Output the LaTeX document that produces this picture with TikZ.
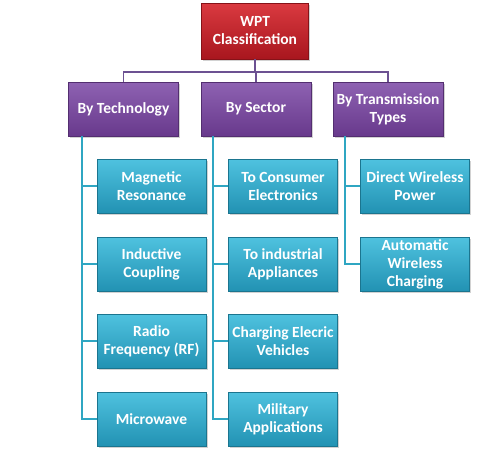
\documentclass[tikz,border=0pt]{standalone}
\usepackage{fontspec}
\setmainfont{Carlito}[BoldFont={Carlito Bold}]
\usetikzlibrary{shadows}
\definecolor{redtop}{HTML}{DA3A40}
\definecolor{redbot}{HTML}{A8161E}
\definecolor{purtop}{HTML}{8E62B2}
\definecolor{purbot}{HTML}{68398C}
\definecolor{blutop}{HTML}{4FC2DF}
\definecolor{blubot}{HTML}{2292B3}
\definecolor{purline}{HTML}{6C5192}
\definecolor{bluline}{HTML}{2FA6C2}
\tikzset{
  box/.style={rectangle, text=white, font=\fontsize{15.5}{18}\selectfont\bfseries,
    align=center, inner sep=0pt, minimum width=110pt, minimum height=54pt,
    drop shadow={shadow xshift=1.5pt, shadow yshift=-1.5pt, opacity=0.35}},
  rootbox/.style={box, top color=redtop, bottom color=redbot, draw=redbot!80!black, line width=0.3pt, minimum width=107pt, minimum height=56pt},
  catbox/.style={box, top color=purtop, bottom color=purbot, draw=purbot!80!black, line width=0.3pt},
  leafbox/.style={box, top color=blutop, bottom color=blubot, draw=blubot!80!black, line width=0.3pt, minimum width=109pt},
  pline/.style={draw=purline, line width=1.8pt},
  bline/.style={draw=bluline, line width=1.8pt},
}
\begin{document}
\begin{tikzpicture}[x=1pt,y=-1pt]
\useasboundingbox[fill=white] (0,0) rectangle (500,471);
\coordinate (bar) at (255,72);
\node[rootbox] (root) at (255,31) {WPT\\Classification};
\node[catbox] (tech) at (123.5,109) {By Technology};
\node[catbox] (sect) at (256,109) {By Sector};
\node[catbox] (trans) at (388,109) {By Transmission\\Types};

\node[leafbox] (mr) at (151.5,186) {Magnetic\\Resonance};
\node[leafbox] (ic) at (151.5,264) {Inductive\\Coupling};
\node[leafbox] (rf) at (151.5,341) {Radio\\Frequency (RF)};
\node[leafbox] (mw) at (151.5,419) {Microwave};

\node[leafbox] (ce) at (283,186) {To Consumer\\Electronics};
\node[leafbox] (ia) at (283,264) {To industrial\\Appliances};
\node[leafbox] (ev) at (283,341) {Charging Elecric\\Vehicles};
\node[leafbox] (ma) at (283,419) {Military\\Applications};

\node[leafbox] (dw) at (415,186) {Direct Wireless\\Power};
\node[leafbox] (aw) at (415,264) {Automatic\\Wireless\\Charging};

\draw[pline] (root.south) -- (bar);
\draw[pline] (tech.north) |- (bar) -| (trans.north);
\draw[pline] (bar) -| (sect.north);

\draw[bline] ([xshift=14pt]tech.south west) |- (mw.west);
\draw[bline] ([xshift=14pt]tech.south west) |- (mr.west);
\draw[bline] ([xshift=14pt]tech.south west) |- (ic.west);
\draw[bline] ([xshift=14pt]tech.south west) |- (rf.west);

\draw[bline] ([xshift=12pt]sect.south west) |- (ma.west);
\draw[bline] ([xshift=12pt]sect.south west) |- (ce.west);
\draw[bline] ([xshift=12pt]sect.south west) |- (ia.west);
\draw[bline] ([xshift=12pt]sect.south west) |- (ev.west);

\draw[bline] ([xshift=12pt]trans.south west) |- (aw.west);
\draw[bline] ([xshift=12pt]trans.south west) |- (dw.west);
\end{tikzpicture}
\end{document}
